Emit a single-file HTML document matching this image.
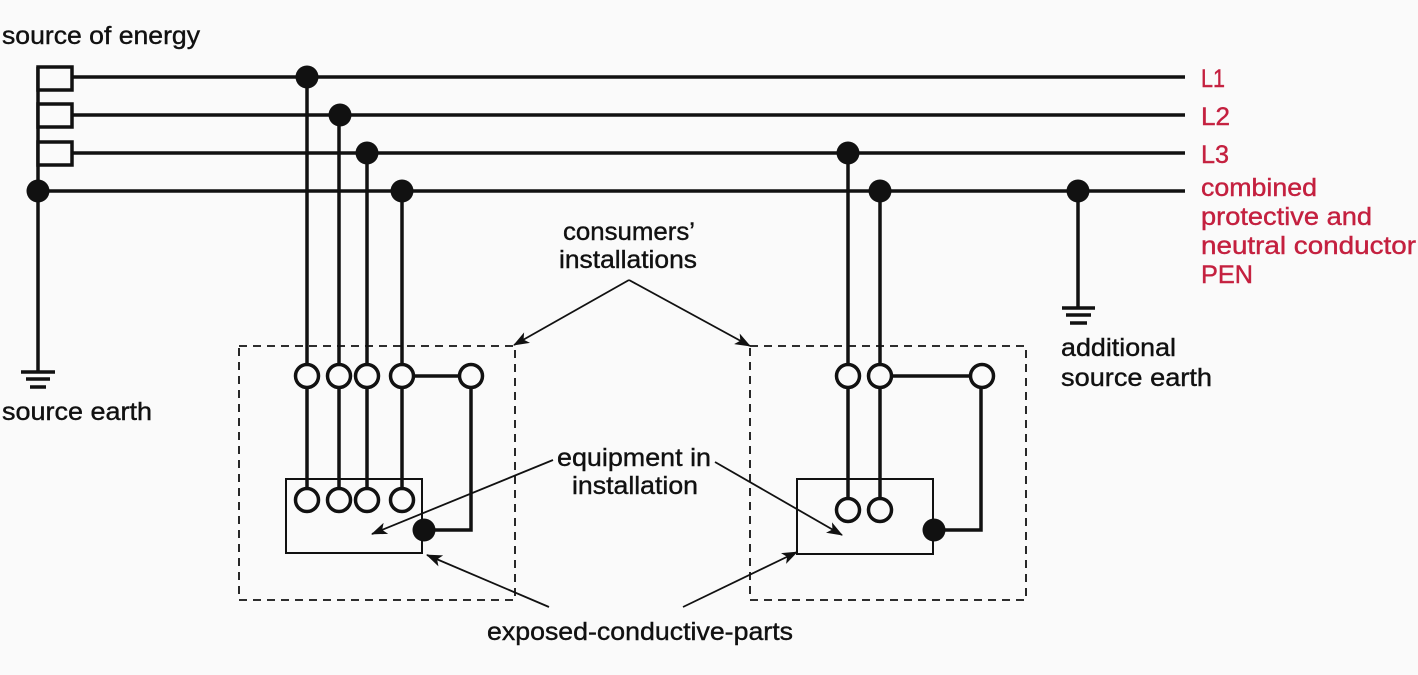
<!DOCTYPE html>
<html><head><meta charset="utf-8">
<style>
html,body{margin:0;padding:0;background:#fafafa;}
svg{display:block;}
text{font-family:"Liberation Sans",sans-serif;font-size:25px;fill:#111;stroke:#111;stroke-width:0.4;}
.r{fill:#c4203f;stroke:#c4203f;}
</style></head>
<body>
<svg width="1418" height="675" viewBox="0 0 1418 675" xmlns="http://www.w3.org/2000/svg">
<defs>
<marker id="a" markerWidth="16" markerHeight="12" refX="15" refY="6" orient="auto" markerUnits="userSpaceOnUse">
<path d="M0,0 L16,6 L0,12 L4,6 z" fill="#111"/>
</marker>
</defs>
<rect width="1418" height="675" fill="#fafafa"/>
<g stroke="#111" stroke-width="3.5" fill="none">
<line x1="38" y1="67" x2="38" y2="372"/>
<rect x="38" y="67" width="34" height="23" fill="#fafafa"/>
<rect x="38" y="104" width="34" height="23" fill="#fafafa"/>
<rect x="38" y="142" width="34" height="23" fill="#fafafa"/>
<line x1="72" y1="77" x2="1185" y2="77"/>
<line x1="72" y1="115" x2="1185" y2="115"/>
<line x1="72" y1="153" x2="1185" y2="153"/>
<line x1="38" y1="191" x2="1185" y2="191"/>
<line x1="21" y1="372" x2="55" y2="372"/>
<line x1="26" y1="379" x2="50" y2="379"/>
<line x1="30" y1="387" x2="46" y2="387"/>
<line x1="1078" y1="191" x2="1078" y2="308"/>
<line x1="1062" y1="308" x2="1095" y2="308"/>
<line x1="1066" y1="315" x2="1091" y2="315"/>
<line x1="1070" y1="323" x2="1087" y2="323"/>
<line x1="307" y1="77" x2="307" y2="500"/>
<line x1="339" y1="115" x2="339" y2="500"/>
<line x1="367" y1="153" x2="367" y2="500"/>
<line x1="402" y1="191" x2="402" y2="500"/>
<polyline points="402,376 471,376 471,530 424,530"/>
<line x1="848" y1="153" x2="848" y2="510"/>
<line x1="880" y1="191" x2="880" y2="510"/>
<polyline points="880,376 981,376 981,530 934,530"/>
</g>
<g stroke="#111" stroke-width="2" fill="none">
<rect x="286" y="479" width="136" height="74"/>
<rect x="797" y="479" width="136" height="75"/>
</g>
<g stroke="#111" stroke-width="1.8" fill="none" stroke-dasharray="8,6">
<rect x="239" y="346" width="276" height="254"/>
<rect x="750" y="346" width="276" height="254"/>
</g>
<g stroke="#111" stroke-width="3.5" fill="#fafafa">
<circle cx="307" cy="376" r="11.5"/><circle cx="339" cy="376" r="11.5"/><circle cx="367" cy="376" r="11.5"/><circle cx="402" cy="376" r="11.5"/><circle cx="471" cy="376" r="11.5"/>
<circle cx="307" cy="500" r="11.5"/><circle cx="339" cy="500" r="11.5"/><circle cx="367" cy="500" r="11.5"/><circle cx="402" cy="500" r="11.5"/>
<circle cx="848" cy="376" r="11.5"/><circle cx="880" cy="376" r="11.5"/><circle cx="982" cy="376" r="11.5"/>
<circle cx="848" cy="510" r="11.5"/><circle cx="880" cy="510" r="11.5"/>
</g>
<g fill="#111">
<circle cx="307" cy="77" r="11.5"/><circle cx="340" cy="115" r="11.5"/><circle cx="367" cy="153" r="11.5"/><circle cx="402" cy="191" r="11.5"/>
<circle cx="38" cy="191" r="11.5"/>
<circle cx="848" cy="153" r="11.5"/><circle cx="880" cy="191" r="11.5"/><circle cx="1078" cy="191" r="11.5"/>
<circle cx="424" cy="530" r="11.5"/><circle cx="934" cy="530" r="11.5"/>
</g>
<g stroke="#111" stroke-width="1.8" fill="none" marker-end="url(#a)">
<line x1="629" y1="280" x2="514" y2="345"/>
<line x1="629" y1="280" x2="750" y2="346"/>
<line x1="553" y1="460" x2="372" y2="534"/>
<line x1="715" y1="462" x2="842" y2="535"/>
<line x1="549" y1="607" x2="427" y2="555"/>
<line x1="683" y1="607" x2="797" y2="552"/>
</g>
<text x="2" y="44" textLength="198" lengthAdjust="spacingAndGlyphs">source of energy</text>
<text x="2" y="420" textLength="150" lengthAdjust="spacingAndGlyphs">source earth</text>
<text x="1061" y="356" textLength="115" lengthAdjust="spacingAndGlyphs">additional</text>
<text x="1061" y="386" textLength="151" lengthAdjust="spacingAndGlyphs">source earth</text>
<text x="563" y="240" textLength="132" lengthAdjust="spacingAndGlyphs">consumers’</text>
<text x="559" y="268" textLength="138" lengthAdjust="spacingAndGlyphs">installations</text>
<text x="557" y="466" textLength="154" lengthAdjust="spacingAndGlyphs">equipment in</text>
<text x="572" y="494" textLength="126" lengthAdjust="spacingAndGlyphs">installation</text>
<text x="487" y="640" textLength="306" lengthAdjust="spacingAndGlyphs">exposed-conductive-parts</text>
<text class="r" x="1201" y="87" textLength="24" lengthAdjust="spacingAndGlyphs">L1</text>
<text class="r" x="1201" y="125" textLength="29" lengthAdjust="spacingAndGlyphs">L2</text>
<text class="r" x="1201" y="163" textLength="28" lengthAdjust="spacingAndGlyphs">L3</text>
<text class="r" x="1201" y="196" textLength="116" lengthAdjust="spacingAndGlyphs">combined</text>
<text class="r" x="1201" y="225" textLength="171" lengthAdjust="spacingAndGlyphs">protective and</text>
<text class="r" x="1201" y="254" textLength="215" lengthAdjust="spacingAndGlyphs">neutral conductor</text>
<text class="r" x="1201" y="283" textLength="52" lengthAdjust="spacingAndGlyphs">PEN</text>
</svg>
</body></html>
